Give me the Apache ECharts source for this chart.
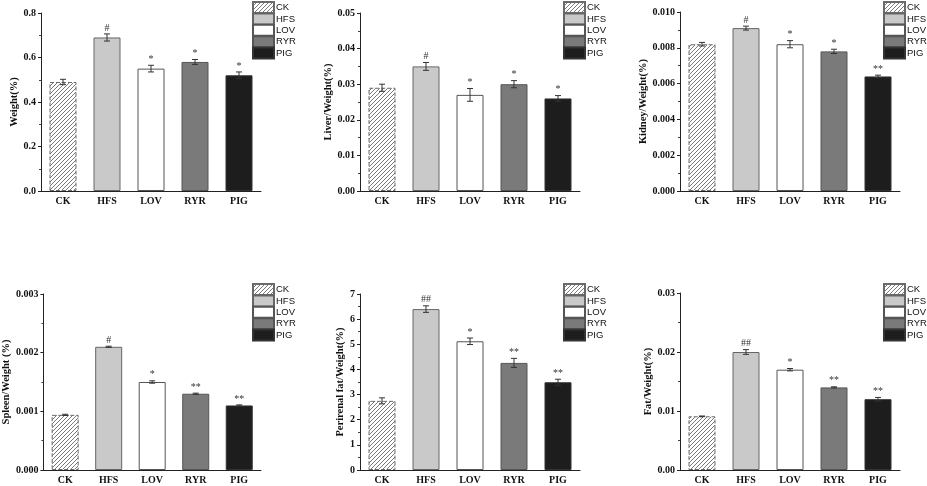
<!DOCTYPE html>
<html>
<head>
<meta charset="utf-8">
<script src="https://cdn.jsdelivr.net/npm/echarts@6/dist/echarts.min.js"></script>
<style>
  html, body { margin: 0; padding: 0; background: #fff; }
  #chart { width: 927px; height: 486px; }
</style>
</head>
<body>
<div id="chart"></div>
<script>
var groups = ['CK', 'HFS', 'LOV', 'RYR', 'PIG'];

var weightVals = [0.49, 0.69, 0.55, 0.58, 0.52];
var weightErr = [0.012, 0.016, 0.015, 0.011, 0.015];
var weightMarks = ['', '#', '*', '*', '*'];

var liverVals = [0.029, 0.035, 0.027, 0.030, 0.026];
var liverErr = [0.001, 0.0011, 0.0018, 0.001, 0.0008];
var liverMarks = ['', '#', '*', '*', '*'];

var kidneyVals = [0.0082, 0.0091, 0.0082, 0.0078, 0.0064];
var kidneyErr = [0.0001, 0.00011, 0.0002, 0.00012, 0.00007];
var kidneyMarks = ['', '#', '*', '*', '**'];

var spleenVals = [0.00094, 0.0021, 0.0015, 0.0013, 0.0011];
var spleenErr = [0.00001, 0.00001, 0.00002, 0.00001, 0.00001];
var spleenMarks = ['', '#', '*', '**', '**'];

var perirenalVals = [2.75, 6.4, 5.12, 4.26, 3.49];
var perirenalErr = [0.12, 0.13, 0.13, 0.18, 0.12];
var perirenalMarks = ['', '##', '*', '**', '**'];

var fatVals = [0.0091, 0.020, 0.017, 0.014, 0.012];
var fatErr = [0.00005, 0.0004, 0.0002, 0.0001, 0.0003];
var fatMarks = ['', '##', '*', '**', '**'];

// hatch tile for the CK bars
function makeHatch() {
    var s = 4;
    var c = document.createElement('canvas');
    c.width = s; c.height = s;
    var ctx = c.getContext('2d');
    ctx.fillStyle = '#ffffff';
    ctx.fillRect(0, 0, s, s);
    ctx.strokeStyle = '#7a7a7a';
    ctx.lineWidth = 1;
    ctx.beginPath();
    ctx.moveTo(0, s); ctx.lineTo(s, 0);
    ctx.moveTo(-1, 1); ctx.lineTo(1, -1);
    ctx.moveTo(s - 1, s + 1); ctx.lineTo(s + 1, s - 1);
    ctx.stroke();
    return c;
}

var fills = [
    { image: makeHatch(), repeat: 'repeat' },
    '#c9c9c9', '#ffffff', '#7a7a7a', '#1d1d1d'
];
var borders = ['#6a6a6a', '#666666', '#555555', '#555555', '#333333'];

var panels = [
    { vals: weightVals, err: weightErr, marks: weightMarks, name: 'Weight(%)', max: 0.8, step: 0.2, dec: 1, gap: 18,
      left: 41, top: 13, height: 178, legendLeft: 252, legendTop: 1 },
    { vals: liverVals, err: liverErr, marks: liverMarks, name: 'Liver/Weight(%)', max: 0.05, step: 0.01, dec: 2, gap: 23,
      left: 360, top: 13, height: 178, legendLeft: 563, legendTop: 1 },
    { vals: kidneyVals, err: kidneyErr, marks: kidneyMarks, name: 'Kidney/Weight(%)', max: 0.01, step: 0.002, dec: 3, gap: 28,
      left: 680, top: 12, height: 179, legendLeft: 883, legendTop: 1 },
    { vals: spleenVals, err: spleenErr, marks: spleenMarks, name: 'Spleen/Weight (%)', max: 0.003, step: 0.001, dec: 3, gap: 27,
      left: 41, top: 294, height: 176, legendLeft: 252, legendTop: 283 },
    { vals: perirenalVals, err: perirenalErr, marks: perirenalMarks, name: 'Perirenal fat/Weight(%)', max: 7, step: 1, dec: 0, gap: 10,
      left: 360, top: 294, height: 176, legendLeft: 563, legendTop: 283 },
    { vals: fatVals, err: fatErr, marks: fatMarks, name: 'Fat/Weight(%)', max: 0.03, step: 0.01, dec: 2, gap: 24,
      left: 680, top: 293, height: 177, legendLeft: 883, legendTop: 283 }
];

var serif = 'Liberation Serif';
var grids = [], xAxes = [], yAxes = [], legends = [], series = [];

panels.forEach(function(p, i) {
    grids.push({ left: p.left, top: p.top, width: 220, height: p.height });

    xAxes.push({
        type: 'category',
        gridIndex: i,
        data: groups,
        axisLine: { lineStyle: { color: '#222', width: 1 } },
        axisTick: { alignWithLabel: true, length: 3, lineStyle: { color: '#222' } },
        axisLabel: { color: '#111', fontFamily: serif, fontWeight: 'bold', fontSize: 10, margin: 5 }
    });

    yAxes.push({
        type: 'value',
        gridIndex: i,
        min: 0,
        max: p.max,
        interval: p.step,
        name: p.name,
        nameLocation: 'middle',
        nameGap: p.gap,
        nameTextStyle: { color: '#111', fontFamily: serif, fontWeight: 'bold', fontSize: 10.5 },
        axisLine: { show: true, lineStyle: { color: '#222', width: 1 } },
        axisTick: { show: true, length: 3, lineStyle: { color: '#222' } },
        minorTick: { show: true, splitNumber: 2, length: 2, lineStyle: { color: '#444' } },
        splitLine: { show: false },
        axisLabel: {
            color: '#111', fontFamily: serif, fontWeight: 'bold', fontSize: 10, margin: 5,
            formatter: function(v) { return v.toFixed(p.dec); }
        }
    });

    legends.push({
        data: groups,
        orient: 'vertical',
        left: p.legendLeft,
        top: p.legendTop,
        icon: 'rect',
        itemWidth: 21,
        itemHeight: 11,
        itemGap: -1.6,
        padding: 0,
        selectedMode: false,
        textStyle: { color: '#111', fontFamily: 'Liberation Sans', fontSize: 9.5, padding: [0, 0, 0, -3] }
    });

    groups.forEach(function(g, k) {
        var data = groups.map(function(_, j) { return j === k ? p.vals[j] : '-'; });
        series.push({
            name: g,
            type: 'bar',
            xAxisIndex: i,
            yAxisIndex: i,
            stack: 'panel' + i,
            barWidth: 27,
            data: data,
            itemStyle: {
                color: fills[k],
                borderColor: borders[k],
                borderWidth: 1,
                borderType: k === 0 ? 'dashed' : 'solid'
            }
        });
    });

    series.push({
        type: 'custom',
        xAxisIndex: i,
        yAxisIndex: i,
        z: 5,
        silent: true,
        clip: false,
        data: p.vals.map(function(v, j) { return [j, v, p.err[j]]; }),
        renderItem: function(params, api) {
            var x = api.value(0), v = api.value(1), e = api.value(2);
            var hi = api.coord([x, v + e]);
            var lo = api.coord([x, v - e]);
            var cap = 3;
            var stroke = { stroke: '#333', lineWidth: 1 };
            var kids = [
                { type: 'line', shape: { x1: hi[0], y1: hi[1], x2: lo[0], y2: lo[1] }, style: stroke },
                { type: 'line', shape: { x1: hi[0] - cap, y1: hi[1], x2: hi[0] + cap, y2: hi[1] }, style: stroke },
                { type: 'line', shape: { x1: lo[0] - cap, y1: lo[1], x2: lo[0] + cap, y2: lo[1] }, style: stroke }
            ];
            var mark = p.marks[params.dataIndex];
            if (mark) {
                kids.push({
                    type: 'text',
                    style: {
                        text: mark, x: hi[0], y: hi[1] - 1,
                        align: 'center', verticalAlign: 'bottom',
                        fill: '#333', font: '10px ' + serif
                    }
                });
            }
            return { type: 'group', children: kids };
        }
    });
});

var myChart = echarts.init(document.getElementById('chart'));
myChart.setOption({
    animation: false,
    backgroundColor: '#fff',
    grid: grids,
    xAxis: xAxes,
    yAxis: yAxes,
    legend: legends,
    series: series
});
</script>
</body>
</html>
